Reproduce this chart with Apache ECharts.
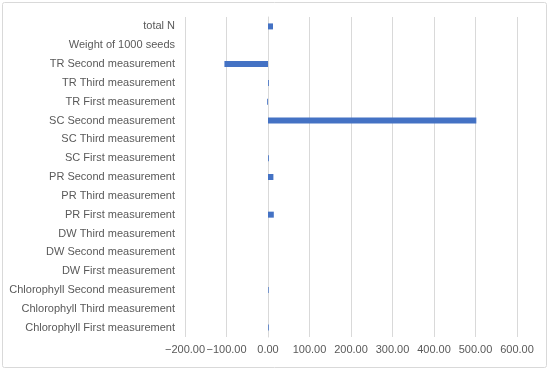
<!DOCTYPE html>
<html><head><meta charset="utf-8">
<script src="https://cdn.jsdelivr.net/npm/echarts@6/dist/echarts.min.js"></script>
<style>html,body{margin:0;padding:0;background:#fff}#c{width:550px;height:371px}</style>
</head><body><div id="c"></div>
<script>
const categories = [
  "Chlorophyll First measurement","Chlorophyll Third measurement","Chlorophyll Second measurement",
  "DW First measurement","DW Second measurement","DW Third measurement",
  "PR First measurement","PR Third measurement","PR Second measurement",
  "SC First measurement","SC Third measurement","SC Second measurement",
  "TR First measurement","TR Third measurement","TR Second measurement",
  "Weight of 1000 seeds","total N"
];
const values = [1.8, 0, 1.6, 0, 0, 0, 14, 0, 13, 2, 0, 502, -2, 2, -105, 0, 12];
const xMin = -200, xMax = 600, xStep = 100;

const chart = echarts.init(document.getElementById('c'), null, {renderer:'canvas'});
chart.setOption({
  animation:false,
  textStyle:{fontFamily:'Liberation Sans, Arial, sans-serif'},
  graphic:[{type:'rect',shape:{x:2.5,y:2.5,width:544,height:365,r:2},style:{fill:'none',stroke:'#d9d9d9',lineWidth:1}}],
  grid:{left:185,right:33,top:17,bottom:34,containLabel:false},
  xAxis:{type:'value',min:xMin,max:xMax,interval:xStep,
    axisLine:{show:false},axisTick:{show:false},
    splitLine:{lineStyle:{color:'#d9d9d9',width:1}},
    axisLabel:{color:'#595959',fontSize:11,margin:7,
      formatter:v=>(v<0?'\u2212':'')+Math.abs(v).toFixed(2)}},
  yAxis:{type:'category',data:categories,
    axisLine:{show:true,onZero:true,lineStyle:{color:'#d9d9d9'}},
    axisTick:{show:false},
    axisLabel:{color:'#595959',fontSize:11,margin:10}},
  series:[{type:'bar',data:values,barWidth:6,itemStyle:{color:'#4472C4'}}]
});
</script></body></html>
